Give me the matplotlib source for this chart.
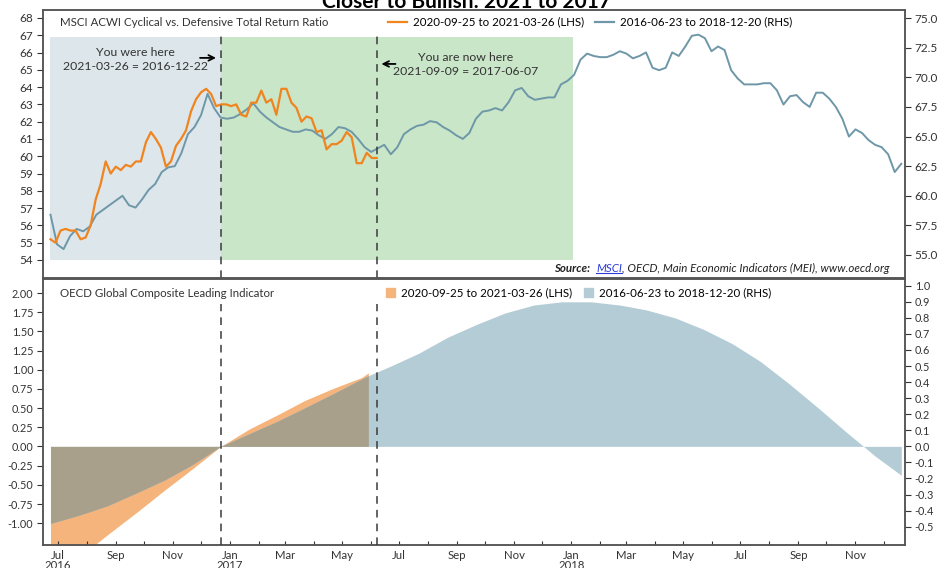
import numpy as np
import pandas as pd
import matplotlib
matplotlib.use("Agg")
import matplotlib.pyplot as plt
import matplotlib.dates as mdates
from matplotlib.lines import Line2D
from matplotlib.patches import Patch
from matplotlib.ticker import FuncFormatter, FormatStrFormatter

plt.rcParams['font.family'] = ['Lato', 'DejaVu Sans']
plt.rcParams['axes.unicode_minus'] = False

# --- top panel: MSCI ACWI cyclical vs defensive total return ratio ---
# 2016-06-23 to 2018-12-20, weekly (RHS)
ratio_2016 = [58.4, 55.9, 55.5, 56.6, 57.2, 57.0, 57.4, 58.4, 58.8, 59.2,
              59.6, 60.0, 59.2, 59.0, 59.7, 60.5, 61.0, 62.0, 62.4, 62.5,
              63.6, 65.2, 65.8, 66.8, 68.6, 67.4, 66.6, 66.5, 66.6, 66.9,
              67.3, 67.8, 67.1, 66.6, 66.2, 65.8, 65.6, 65.4, 65.4, 65.6,
              65.5, 65.1, 64.8, 65.2, 65.8, 65.7, 65.4, 64.8, 64.1, 63.7,
              64.0, 64.3, 63.5, 64.1, 65.2, 65.6, 65.9, 66.0, 66.3, 66.2,
              65.8, 65.5, 65.1, 64.8, 65.3, 66.5, 67.1, 67.2, 67.4, 67.2,
              67.9, 68.9, 69.1, 68.4, 68.1, 68.2, 68.3, 68.3, 69.4, 69.7,
              70.2, 71.5, 72.0, 71.8, 71.7, 71.7, 71.9, 72.2, 72.0, 71.6,
              71.8, 72.1, 70.8, 70.6, 70.8, 72.1, 71.8, 72.6, 73.5, 73.6,
              73.3, 72.2, 72.6, 72.3, 70.6, 69.9, 69.4, 69.4, 69.4, 69.5,
              69.5, 68.9, 67.7, 68.4, 68.5, 67.9, 67.5, 68.7, 68.7, 68.2,
              67.5, 66.5, 65.0, 65.6, 65.3, 64.7, 64.3, 64.1, 63.5, 62.0,
              62.7]
# 2020-09-25 onwards, shifted onto the 2016 calendar (LHS)
ratio_2020 = [55.2, 55.0, 55.7, 55.8, 55.7, 55.7, 55.2, 55.3, 56.0, 57.5,
              58.4, 59.7, 59.0, 59.4, 59.2, 59.5, 59.4, 59.7, 59.7, 60.8,
              61.4, 61.0, 60.5, 59.4, 59.7, 60.6, 61.0, 61.5, 62.6, 63.3,
              63.7, 63.9, 63.6, 62.9, 63.0, 63.0, 62.9, 63.0, 62.4, 62.3,
              63.1, 63.1, 63.8, 63.1, 63.3, 62.4, 63.9, 63.9, 63.1, 62.8,
              62.0, 62.3, 62.2, 61.4, 61.5, 60.4, 60.7, 60.7, 60.9, 61.4,
              61.1, 59.6, 59.6, 60.2, 59.9, 59.9]

# --- bottom panel: OECD global composite leading indicator ---
cli_dates = ['2016-06-23', '2016-07-23', '2016-08-23', '2016-09-23', '2016-10-23',
             '2016-11-23', '2016-12-22', '2017-01-22', '2017-02-22', '2017-03-22',
             '2017-04-22', '2017-05-22', '2017-05-29', '2017-06-22', '2017-07-22',
             '2017-08-22', '2017-09-22', '2017-10-22', '2017-11-22', '2017-12-22',
             '2018-01-22', '2018-02-22', '2018-03-22', '2018-04-22', '2018-05-22',
             '2018-06-22', '2018-07-22', '2018-08-22', '2018-09-22', '2018-10-22',
             '2018-11-22', '2018-12-20']
cli_2016 = [-0.48, -0.43, -0.37, -0.29, -0.21, -0.11, 0.00, 0.08, 0.16, 0.24,
            0.33, 0.42, 0.44, 0.50, 0.58, 0.68, 0.76, 0.83, 0.88, 0.90,
            0.90, 0.88, 0.85, 0.80, 0.73, 0.64, 0.53, 0.39, 0.24, 0.09,
            -0.06, -0.18]
cli_2020 = [-1.75, -1.45, -1.15, -0.86, -0.57, -0.28, 0.00, 0.23, 0.42, 0.60,
            0.76, 0.90, 0.96]

label_2020 = '2020-09-25 to 2021-03-26 (LHS)'
label_2016 = '2016-06-23 to 2018-12-20 (RHS)'
were_here = '2016-12-22'
now_here = '2017-06-07'

orange = '#f0841f'
steel = '#6e97a8'
orange_fill = '#f5b47c'
steel_fill = '#b4ccd5'
overlap_fill = '#a9a08b'
spine_c = '#555555'

dates_2016 = pd.date_range('2016-06-23', '2018-12-20', freq='7D')
dates_2020 = pd.date_range('2016-06-23', now_here, periods=len(ratio_2020))
cli_x = pd.to_datetime(cli_dates)
xlim = (pd.Timestamp('2016-06-15'), pd.Timestamp('2018-12-24'))

fig = plt.figure(figsize=(9.39, 5.68), dpi=100)
fig.text(0.497, 0.986, 'Closer to Bullish: 2021 to 2017', ha='center', va='baseline',
         fontsize=15, fontweight='bold')

# ---------------- top panel ----------------
ax = fig.add_axes([0.0458, 0.5106, 0.918, 0.4718])
ax2 = ax.twinx()
ax.set_zorder(ax2.get_zorder() + 1)
ax.patch.set_visible(False)

ax2.axvspan(pd.Timestamp('2016-06-23'), pd.Timestamp(were_here), ymin=0.067, ymax=0.9,
            color='#dde6eb', lw=0, zorder=0)
ax2.axvspan(pd.Timestamp(were_here), pd.Timestamp('2018-01-03'), ymin=0.067, ymax=0.9,
            color='#c9e6c9', lw=0, zorder=0)
ax2.plot(dates_2016, ratio_2016, color=steel, lw=1.4)
ax.plot(dates_2020, ratio_2020, color=orange, lw=1.6)

for d in [were_here, now_here]:
    ax.axvline(pd.Timestamp(d), ymin=0, ymax=0.903, color='#3a3a3a', lw=1.1,
               ls=(0, (5, 4)))

ax.set_xlim(xlim)
ax.set_ylim(52.96, 68.46)
ax2.set_ylim(53.06, 75.68)
ax.set_yticks(range(54, 69))
ax2.set_yticks(np.arange(55, 75.1, 2.5))
ax2.yaxis.set_major_formatter(FormatStrFormatter('%.1f'))
ax.set_xticks([])
for a in (ax, ax2):
    a.tick_params(axis='y', direction='out', length=4, width=0.8, colors='#333333',
                  labelsize=8.5, pad=3)
    for s in a.spines.values():
        s.set_color(spine_c)
        s.set_linewidth(1.1)

ax.text(0.0197, 0.955, 'MSCI ACWI Cyclical vs. Defensive Total Return Ratio',
        transform=ax.transAxes, ha='left', va='center', fontsize=8.3, color='#333333')
ax.legend([Line2D([], [], color=orange, lw=1.6), Line2D([], [], color=steel, lw=1.6)],
          [label_2020, label_2016], loc='center left', bbox_to_anchor=(0.40, 0.955),
          ncol=2, frameon=False, fontsize=8.3, handlelength=1.7, handletextpad=0.5,
          columnspacing=0.9, borderaxespad=0, borderpad=0)

ax.text(pd.Timestamp('2016-09-22'), 65.6, 'You were here\n2021-03-26 = 2016-12-22',
        ha='center', va='center', fontsize=8.8, color='#333333', linespacing=1.3)
ax.text(pd.Timestamp('2017-09-10'), 65.3, 'You are now here\n2021-09-09 = 2017-06-07',
        ha='center', va='center', fontsize=8.8, color='#333333', linespacing=1.3)
ax.annotate('', xy=(pd.Timestamp('2016-12-20'), 65.69),
            xytext=(pd.Timestamp('2016-11-27'), 65.69),
            arrowprops=dict(arrowstyle='->', color='black', lw=1.3))
ax.annotate('', xy=(pd.Timestamp('2017-06-09'), 65.34),
            xytext=(pd.Timestamp('2017-06-30'), 65.34),
            arrowprops=dict(arrowstyle='->', color='black', lw=1.3))

# source line
src_y = 0.034
t3 = ax.text(0.982, src_y, ', OECD, Main Economic Indicators (MEI), www.oecd.org',
             transform=ax.transAxes, ha='right', va='center', fontsize=8.3,
             style='italic', color='#222222')
fig.canvas.draw()
r = fig.canvas.get_renderer()
W, H = fig.bbox.width, fig.bbox.height
bb3 = t3.get_window_extent(r)
t2 = fig.text(bb3.x0 / W, 0, 'MSCI', ha='right', va='center', fontsize=8.3,
              style='italic', color='#2a3bd6')
t2.set_y(ax.transAxes.transform((0, src_y))[1] / H)
bb2 = t2.get_window_extent(r)
fig.add_artist(Line2D([bb2.x0 / W, bb2.x1 / W], [(bb2.y0 + 1) / H] * 2,
                      color='#2a3bd6', lw=0.8))
fig.text(bb2.x0 / W - 0.006, t2.get_position()[1], 'Source:', ha='right', va='center',
         fontsize=8.3, style='italic', fontweight='bold', color='#222222')

# ---------------- bottom panel ----------------
bx = fig.add_axes([0.0458, 0.0405, 0.918, 0.4683])
bx2 = bx.twinx()
bx.set_xlim(xlim)
bx.set_ylim(-1.284, 2.183)
bx2.set_ylim(-0.614, 1.042)

n20 = len(cli_2020)
bx.fill_between(cli_x[:n20], 0, cli_2020, color=orange_fill, lw=0)
bx2.fill_between(cli_x, 0, cli_2016, color=steel_fill, lw=0)
# where both periods cover the same area the colours mix
scale = (1.042 + 0.614) / (2.183 + 1.284)
o_rhs = np.array(cli_2020) * scale
b_rhs = np.array(cli_2016[:n20])
same = np.sign(o_rhs) == np.sign(b_rhs)
overlap = np.where(same, np.sign(b_rhs) * np.minimum(np.abs(o_rhs), np.abs(b_rhs)), 0)
bx2.fill_between(cli_x[:n20], 0, overlap, color=overlap_fill, lw=0)

for d in [were_here, now_here]:
    bx2.axvline(pd.Timestamp(d), ymin=0, ymax=0.906, color='#3a3a3a', lw=1.1,
                ls=(0, (5, 4)), zorder=5)

bx.set_yticks(np.arange(-1.0, 2.01, 0.25))
bx.yaxis.set_major_formatter(FormatStrFormatter('%.2f'))
bx2.set_yticks(np.round(np.arange(-0.5, 1.01, 0.1), 1))
bx2.yaxis.set_major_formatter(FuncFormatter(lambda v, p: f'{v + 0.0:.1f}'.replace('-0.0', '0.0')))

bx.xaxis.set_major_locator(mdates.MonthLocator(bymonth=[1, 3, 5, 7, 9, 11]))
bx.xaxis.set_minor_locator(mdates.MonthLocator())


def month_label(x, pos):
    d = mdates.num2date(x)
    if d.month == 1 or pos == 0:
        return d.strftime('%b\n%Y')
    return d.strftime('%b')


bx.xaxis.set_major_formatter(FuncFormatter(month_label))
bx.tick_params(axis='x', which='both', direction='in', length=3, width=0.8,
               colors='#333333', labelsize=8.2, pad=3.5)
for lab in bx.get_xticklabels():
    lab.set_linespacing(0.9)
for a in (bx, bx2):
    a.tick_params(axis='y', direction='out', length=4, width=0.8, colors='#333333',
                  labelsize=7.8, pad=3)
    for s in a.spines.values():
        s.set_color(spine_c)
        s.set_linewidth(1.1)

bx2.text(0.0197, 0.947, 'OECD Global Composite Leading Indicator', transform=bx2.transAxes,
         ha='left', va='center', fontsize=8.3, color='#333333')
bx2.legend([Patch(color=orange_fill), Patch(color=steel_fill)], [label_2020, label_2016],
           loc='center left', bbox_to_anchor=(0.398, 0.947), ncol=2, frameon=False,
           fontsize=8.3, handlelength=0.8, handleheight=0.8, handletextpad=0.5,
           columnspacing=1.0, borderaxespad=0, borderpad=0)

fig.savefig('out.png', dpi=100)
